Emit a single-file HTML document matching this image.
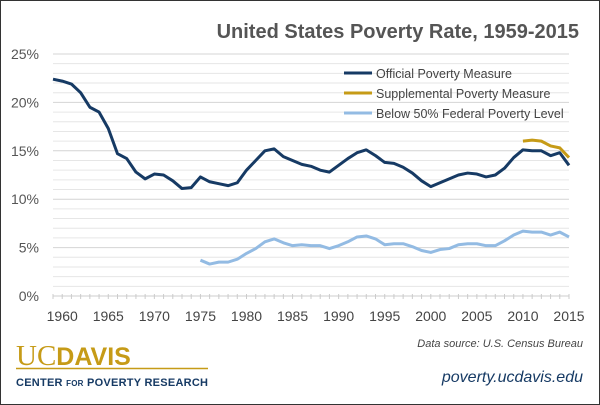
<!DOCTYPE html>
<html><head><meta charset="utf-8"><style>
body{margin:0;background:#fff;}
#wrap{position:relative;width:598px;height:403px;border:1px solid #333;overflow:hidden;font-family:"Liberation Sans",sans-serif;}
svg{position:absolute;left:0;top:0;}
</style></head><body>
<div id="wrap">
<svg id="chart" width="600" height="405">
<text x="578" y="37" text-anchor="end" font-size="20" font-weight="bold" fill="#555">United States Poverty Rate, 1959-2015</text>
<g id="grid"></g><g id="xticks"></g><g id="series"></g>
<g>
<line x1="343" y1="72" x2="371" y2="72" stroke="#163a64" stroke-width="3"/>
<text x="375" y="77" font-size="12.5" fill="#444">Official Poverty Measure</text>
<line x1="343" y1="92" x2="371" y2="92" stroke="#c69b17" stroke-width="3"/>
<text x="375" y="97" font-size="12.5" fill="#444">Supplemental Poverty Measure</text>
<line x1="343" y1="112" x2="371" y2="112" stroke="#93bbe3" stroke-width="3"/>
<text x="375" y="117" font-size="12.5" fill="#444">Below 50% Federal Poverty Level</text>
</g>
<text x="15" y="364" font-family="Liberation Serif,serif" font-size="29" fill="#c69b17">UC<tspan font-family="Liberation Sans,sans-serif" font-weight="bold" font-size="25">DAVIS</tspan></text>
<line x1="15" y1="367.5" x2="207" y2="367.5" stroke="#c69b17" stroke-width="1.5"/>
<text x="15" y="385" font-size="11" font-weight="bold" fill="#163a64" textLength="192">CENTER <tspan font-size="8">FOR</tspan> POVERTY RESEARCH</text>
<text x="582" y="346" text-anchor="end" font-size="11" font-style="italic" fill="#444">Data source: U.S. Census Bureau</text>
<text x="582" y="381" text-anchor="end" font-size="16" font-style="italic" fill="#163a64">poverty.ucdavis.edu</text>
</svg>
</div>
<script>
const years=[1959,1960,1961,1962,1963,1964,1965,1966,1967,1968,1969,1970,1971,1972,1973,1974,1975,1976,1977,1978,1979,1980,1981,1982,1983,1984,1985,1986,1987,1988,1989,1990,1991,1992,1993,1994,1995,1996,1997,1998,1999,2000,2001,2002,2003,2004,2005,2006,2007,2008,2009,2010,2011,2012,2013,2014,2015];
const official=[22.4,22.2,21.9,21.0,19.5,19.0,17.3,14.7,14.2,12.8,12.1,12.6,12.5,11.9,11.1,11.2,12.3,11.8,11.6,11.4,11.7,13.0,14.0,15.0,15.2,14.4,14.0,13.6,13.4,13.0,12.8,13.5,14.2,14.8,15.1,14.5,13.8,13.7,13.3,12.7,11.9,11.3,11.7,12.1,12.5,12.7,12.6,12.3,12.5,13.2,14.3,15.1,15.0,15.0,14.5,14.8,13.5];
const spmYears=[2010,2011,2012,2013,2014,2015];
const spm=[16.0,16.1,16.0,15.5,15.3,14.3];
const below50Years=[1975,1976,1977,1978,1979,1980,1981,1982,1983,1984,1985,1986,1987,1988,1989,1990,1991,1992,1993,1994,1995,1996,1997,1998,1999,2000,2001,2002,2003,2004,2005,2006,2007,2008,2009,2010,2011,2012,2013,2014,2015];
const below50=[3.7,3.3,3.5,3.5,3.8,4.4,4.9,5.6,5.9,5.5,5.2,5.3,5.2,5.2,4.9,5.2,5.6,6.1,6.2,5.9,5.3,5.4,5.4,5.1,4.7,4.5,4.8,4.9,5.3,5.4,5.4,5.2,5.2,5.7,6.3,6.7,6.6,6.6,6.3,6.6,6.1];
const yTicks=[0,5,10,15,20,25];
const xTicks=[1960,1965,1970,1975,1980,1985,1990,1995,2000,2005,2010,2015];
const NS="http://www.w3.org/2000/svg";
const x=y=>52+(y-1959)*(516/56);
const yv=v=>295-v*9.68;
function mk(t,a,p){const e=document.createElementNS(NS,t);for(const k in a)e.setAttribute(k,a[k]);p.appendChild(e);return e;}
const grid=document.getElementById('grid');
for(let v=1;v<=25;v++){
  const l=mk('line',{x1:52,x2:568,y1:yv(v),y2:yv(v),stroke:v%5==0?'#d4d4d4':'#e6e6e6','stroke-width':1},grid);
  
  
}
yTicks.forEach(v=>{
  const t=mk('text',{x:38,y:yv(v)+5,'text-anchor':'end','font-size':14,fill:'#555'},grid);
  t.textContent=v+'%';
  
  
});
const xt=document.getElementById('xticks');
mk('line',{x1:52,x2:568,y1:295,y2:295,stroke:'#ccc','stroke-width':1},xt);
years.forEach(y=>{mk('line',{x1:x(y),x2:x(y),y1:293,y2:298,stroke:'#ccc','stroke-width':1},xt);});
xTicks.forEach(y=>{
  const t=mk('text',{x:x(y),y:320,'text-anchor':'middle','font-size':14,fill:'#444'},xt);
  t.textContent=y;
  
  
});
const s=document.getElementById('series');
function line(xs,vs,col,name){
  const p=mk('polyline',{points:xs.map((yy,i)=>x(yy)+','+yv(vs[i])).join(' '),fill:'none',stroke:col,'stroke-width':3,'stroke-linejoin':'round'},s);
  
  
}
line(below50Years,below50,'#93bbe3','below-50-line');
line(spmYears,spm,'#c69b17','supplemental-line');
line(years,official,'#163a64','official-line');
</script>
</body></html>
